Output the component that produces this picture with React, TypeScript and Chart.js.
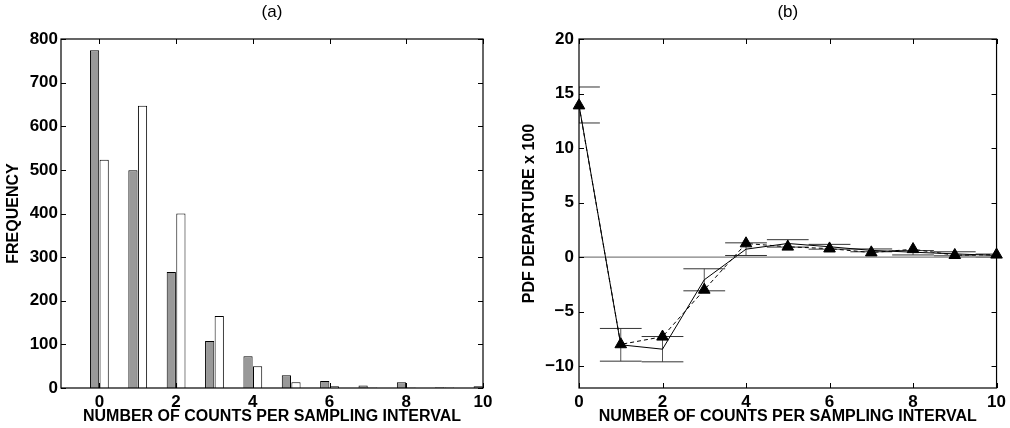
import React, { useEffect, useRef } from "react";
import { Chart, registerables } from "chart.js";

Chart.register(...registerables);
Chart.defaults.font.family = "'Liberation Sans', Arial, Helvetica, sans-serif";
Chart.defaults.color = "#000";

// ---------- Panel (a) data ----------
const countValues = [0, 1, 2, 3, 4, 5, 6, 7, 8, 9, 10];
const observedFrequency = [774, 499, 266, 108, 73, 29, 16, 6, 13, 2, 4];
const modelFrequency = [523, 647, 400, 165, 50, 13, 4, 1, 1, 1, 1];

// ---------- Panel (b) data ----------
const departureX = [0, 1, 2, 3, 4, 5, 6, 7, 8, 9, 10];
const measuredDeparture = [13.95, -8.04, -8.44, -2.08, 0.73, 1.25, 0.95, 0.62, 0.45, 0.3, 0.15];
const errorLow = [12.3, -9.54, -9.6, -3.09, 0.15, 0.92, 0.73, 0.49, 0.2, 0.12, 0.0];
const errorHigh = [15.6, -6.54, -7.28, -1.07, 1.31, 1.6, 1.17, 0.75, 0.6, 0.49, 0.28];
const modelDeparture = [13.9, -8.0, -7.3, -3.0, 1.25, 0.95, 0.78, 0.42, 0.72, 0.18, 0.22];
const zeroLineX = [0, 10];

const CAP_HALF = 0.5;

const framePlugin = {
  id: "frame",
  afterDatasetsDraw(chart: any) {
    const { ctx, chartArea, scales } = chart;
    const { left, right, top, bottom } = chartArea;
    const tl = 5;
    ctx.save();
    ctx.strokeStyle = "#000";
    ctx.lineWidth = 1.2;
    ctx.strokeRect(left, top, right - left, bottom - top);
    ctx.lineWidth = 1;
    ctx.beginPath();
    scales.x.ticks.forEach((t: any) => {
      const px = Math.round(scales.x.getPixelForValue(t.value)) + 0.5;
      ctx.moveTo(px, bottom);
      ctx.lineTo(px, bottom - tl);
      ctx.moveTo(px, top);
      ctx.lineTo(px, top + tl);
    });
    scales.y.ticks.forEach((t: any) => {
      const py = Math.round(scales.y.getPixelForValue(t.value)) + 0.5;
      ctx.moveTo(left, py);
      ctx.lineTo(left + tl, py);
      ctx.moveTo(right, py);
      ctx.lineTo(right - tl, py);
    });
    ctx.stroke();
    ctx.restore();
  },
};

const errorBarPlugin = {
  id: "errorBars",
  beforeDatasetsDraw(chart: any) {
    const { ctx, chartArea, scales } = chart;
    const { x, y } = scales;
    ctx.save();
    ctx.beginPath();
    ctx.rect(chartArea.left, chartArea.top, chartArea.right - chartArea.left, chartArea.bottom - chartArea.top);
    ctx.clip();
    ctx.lineWidth = 1;
    departureX.forEach((v, i) => {
      const px = x.getPixelForValue(v);
      const pl = x.getPixelForValue(v - CAP_HALF);
      const pr = x.getPixelForValue(v + CAP_HALF);
      const ph = y.getPixelForValue(errorHigh[i]);
      const plo = y.getPixelForValue(errorLow[i]);
      ctx.strokeStyle = "#555";
      ctx.beginPath();
      ctx.moveTo(px, ph);
      ctx.lineTo(px, plo);
      ctx.stroke();
      ctx.strokeStyle = "#333";
      ctx.beginPath();
      ctx.moveTo(pl, ph);
      ctx.lineTo(pr, ph);
      ctx.moveTo(pl, plo);
      ctx.lineTo(pr, plo);
      ctx.stroke();
    });
    ctx.restore();
  },
};

const tickFont = { size: 17, weight: "bold" as const };
const axisTitleFont = { size: 16, weight: "bold" as const };

export default function App() {
  const refA = useRef<HTMLCanvasElement>(null);
  const refB = useRef<HTMLCanvasElement>(null);

  useEffect(() => {
    const chartA = new Chart(refA.current as HTMLCanvasElement, {
      type: "bar",
      data: {
        datasets: [
          {
            label: "Observed",
            data: countValues.map((x, i) => ({ x, y: observedFrequency[i] })),
            backgroundColor: "#999999",
            borderColor: "#000",
            borderWidth: 1,
            categoryPercentage: 0.5,
            barPercentage: 0.96,
          },
          {
            label: "Model",
            data: countValues.map((x, i) => ({ x, y: modelFrequency[i] })),
            backgroundColor: "#ffffff",
            borderColor: "#000",
            borderWidth: 1,
            categoryPercentage: 0.5,
            barPercentage: 0.96,
          },
        ],
      } as any,
      options: {
        responsive: false,
        animation: false,
        layout: { padding: { left: 0, right: 22, top: 0, bottom: 0 } },
        plugins: {
          legend: { display: false },
          tooltip: { enabled: false },
          title: {
            display: true,
            text: "(a)",
            fullSize: false,
            color: "#000",
            font: { size: 17, weight: "normal" },
            padding: { top: 1.8, bottom: 16.8 },
          },
        },
        scales: {
          x: {
            type: "linear",
            min: -1,
            max: 10,
            offset: false,
            grid: { display: false, drawTicks: false, offset: false },
            border: { display: false },
            ticks: {
              stepSize: 2,
              includeBounds: false,
              autoSkip: false,
              maxRotation: 0,
              padding: 4,
              color: "#000",
              font: tickFont,
            },
            title: {
              display: true,
              text: "NUMBER OF COUNTS PER SAMPLING INTERVAL",
              color: "#000",
              font: axisTitleFont,
              padding: { top: 0, bottom: 1.4 },
            },
            afterFit: (s: any) => {
              s.height = 40;
            },
          },
          y: {
            type: "linear",
            min: 0,
            max: 800,
            grid: { display: false, drawTicks: false },
            border: { display: false },
            ticks: { stepSize: 100, padding: 3, color: "#000", font: tickFont, autoSkip: false },
            title: {
              display: true,
              text: "FREQUENCY",
              color: "#000",
              font: axisTitleFont,
              padding: { top: 4.4, bottom: 0 },
            },
            afterFit: (s: any) => {
              s.width = 61;
            },
          },
        },
      } as any,
      plugins: [framePlugin],
    });

    const chartB = new Chart(refB.current as HTMLCanvasElement, {
      type: "line",
      data: {
        datasets: [
          {
            label: "Model markers",
            data: departureX.map((x, i) => ({ x, y: modelDeparture[i] })),
            showLine: false,
            pointStyle: "triangle",
            pointRadius: 6.7,
            pointBackgroundColor: "#000",
            pointBorderColor: "#000",
            pointBorderWidth: 1,
            clip: false,
          },
          {
            label: "Model",
            data: departureX.map((x, i) => ({ x, y: modelDeparture[i] })),
            borderColor: "#000",
            borderWidth: 1,
            borderDash: [4, 3],
            pointRadius: 0,
            tension: 0,
          },
          {
            label: "Measured",
            data: departureX.map((x, i) => ({ x, y: measuredDeparture[i] })),
            borderColor: "#000",
            borderWidth: 1,
            pointRadius: 0,
            tension: 0,
          },
          {
            label: "Zero",
            data: zeroLineX.map((x) => ({ x, y: 0 })),
            borderColor: "#808080",
            borderWidth: 1.2,
            pointRadius: 0,
          },
        ],
      } as any,
      options: {
        responsive: false,
        animation: false,
        layout: { padding: { left: 0, right: 11, top: 0, bottom: 0 } },
        plugins: {
          legend: { display: false },
          tooltip: { enabled: false },
          title: {
            display: true,
            text: "(b)",
            fullSize: false,
            color: "#000",
            font: { size: 17, weight: "normal" },
            padding: { top: 1.8, bottom: 16.8 },
          },
        },
        scales: {
          x: {
            type: "linear",
            min: 0,
            max: 10,
            offset: false,
            grid: { display: false, drawTicks: false },
            border: { display: false },
            ticks: {
              stepSize: 2,
              includeBounds: false,
              autoSkip: false,
              maxRotation: 0,
              padding: 4,
              color: "#000",
              font: tickFont,
            },
            title: {
              display: true,
              text: "NUMBER OF COUNTS PER SAMPLING INTERVAL",
              color: "#000",
              font: axisTitleFont,
              padding: { top: 0, bottom: 1.4 },
            },
            afterFit: (s: any) => {
              s.height = 40;
            },
          },
          y: {
            type: "linear",
            min: -12,
            max: 20,
            grid: { display: false, drawTicks: false },
            border: { display: false },
            ticks: {
              stepSize: 5,
              includeBounds: false,
              autoSkip: false,
              padding: 5,
              color: "#000",
              font: tickFont,
              callback: (v: any) => (Number(v) < 0 ? "\u2212" + Math.abs(Number(v)) : String(v)),
            },
            title: {
              display: true,
              text: "PDF DEPARTURE x 100",
              color: "#000",
              font: axisTitleFont,
              padding: { top: 15.4, bottom: 0 },
            },
            afterFit: (s: any) => {
              s.width = 74;
            },
          },
        },
      } as any,
      plugins: [errorBarPlugin, framePlugin],
    });

    return () => {
      chartA.destroy();
      chartB.destroy();
    };
  }, []);

  return (
    <div style={{ position: "absolute", left: 0, top: 0, width: 1010, height: 428, background: "#fff" }}>
      <canvas ref={refA} width={505} height={428} style={{ position: "absolute", left: 0, top: 0 }} />
      <canvas ref={refB} width={505} height={428} style={{ position: "absolute", left: 505, top: 0 }} />
    </div>
  );
}
